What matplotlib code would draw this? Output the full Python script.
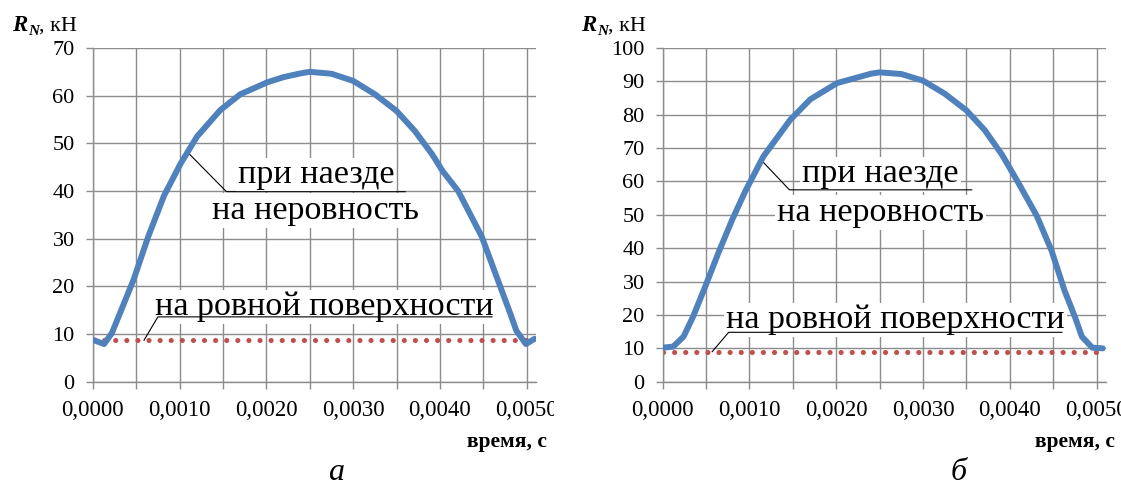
import matplotlib
matplotlib.use("Agg")
import matplotlib.pyplot as plt
from matplotlib.transforms import Bbox, TransformedBbox

# ---------------- data ----------------
time_a = [0, 0.00013, 0.00022, 0.00047, 0.00064, 0.00082, 0.00101, 0.0012, 0.00147,
          0.0017, 0.00201, 0.0022, 0.0024, 0.0025, 0.00275, 0.003, 0.00325, 0.0035,
          0.00371, 0.00391, 0.00403, 0.00421, 0.00448, 0.00481, 0.00488, 0.00499, 0.00509]
force_a = [8.8, 7.9, 10.2, 21.4, 30.5, 39.0, 45.7, 51.4, 57.0,
           60.3, 62.8, 63.9, 64.7, 65.0, 64.6, 63.1, 60.3, 56.8,
           52.6, 47.7, 44.2, 40.0, 30.5, 14.3, 10.7, 7.9, 9.0]

time_b = [0, 0.00012, 0.00024, 0.00035, 0.00049, 0.00064, 0.0008, 0.00095, 0.00116,
          0.00147, 0.0017, 0.00201, 0.0024, 0.0025, 0.00275, 0.003, 0.00325, 0.0035,
          0.00371, 0.00391, 0.0041, 0.00431, 0.00448, 0.00463, 0.00475, 0.00483,
          0.00495, 0.00507]
force_b = [10.2, 10.5, 13.5, 19.5, 28.5, 38.5, 48.5, 57.0, 67.5,
           78.5, 84.6, 89.5, 92.3, 92.7, 92.2, 90.2, 86.3, 81.3,
           75.4, 68.0, 59.5, 49.7, 39.3, 27.3, 19.4, 13.5,
           10.2, 10.0]

flat_time = [0, 0.0051]
flat_a = [8.7, 8.7]
flat_b = [8.9, 8.9]

x_ticks = [0, 0.0005, 0.001, 0.0015, 0.002, 0.0025, 0.003, 0.0035, 0.004, 0.0045, 0.005]
x_ticklabels = ["0,0000", "", "0,0010", "", "0,0020", "", "0,0030", "", "0,0040", "", "0,0050"]
y_ticks_a = [0, 10, 20, 30, 40, 50, 60, 70]
y_ticks_b = [0, 10, 20, 30, 40, 50, 60, 70, 80, 90, 100]

label_bump = "при наезде"
label_bump2 = "на неровность"
label_flat = "на ровной поверхности"
xlabel = "время, с"
captions = ["а", "б"]

# ---------------- style ----------------
SERIF = "Liberation Serif"
plt.rcParams["font.family"] = [SERIF, "DejaVu Serif"]
BLUE = "#4F81BD"
RED = "#C0504D"
GRID = "#8C8C8C"

W, H = 1121, 487
fig = plt.figure(figsize=(W / 100, H / 100), dpi=100)


def fx(px):
    return px / W


def fy(py):
    return 1 - py / H


ax_bottom_px = 381.7
ax_top_px = 48
ax_w_px = 443.5
axA = fig.add_axes([fx(92.8), fy(ax_bottom_px), ax_w_px / W, (ax_bottom_px - ax_top_px) / H])
axB = fig.add_axes([fx(662.7), fy(ax_bottom_px), ax_w_px / W, (ax_bottom_px - ax_top_px) / H])


def style_axes(ax, yticks, ymax):
    ax.set_xlim(0, 0.00511)
    ax.set_ylim(0, ymax)
    ax.set_xticks(x_ticks)
    ax.set_xticklabels(x_ticklabels)
    ax.set_yticks(yticks)
    ax.set_yticklabels([str(v) for v in yticks])
    ax.grid(True, color=GRID, linewidth=1.0)
    ax.set_axisbelow(True)
    for s in ("top", "right"):
        ax.spines[s].set_visible(False)
    for s in ("left", "bottom"):
        ax.spines[s].set_color(GRID)
        ax.spines[s].set_linewidth(1.0)
    ax.tick_params(axis="both", direction="out", length=5, width=1.0, color=GRID,
                   labelcolor="black")
    ax.tick_params(axis="x", pad=8.5, labelsize=16.5)
    ax.tick_params(axis="y", pad=8, labelsize=16)


style_axes(axA, y_ticks_a, 70)
style_axes(axB, y_ticks_b, 100)

for ax, t, f, fl in ((axA, time_a, force_a, flat_a), (axB, time_b, force_b, flat_b)):
    ax.plot(flat_time, fl, color=RED, linewidth=3.7, linestyle=(0, (0.01, 2.15)),
            dash_capstyle="round", zorder=2)
    ax.plot(t, f, color=BLUE, linewidth=4.3, solid_joinstyle="round",
            solid_capstyle="round", zorder=6)

# ---------------- annotations ----------------
TXT = 24.5
box = dict(facecolor="white", edgecolor="none", pad=1.5)


def annotate_panel(ax, bump_xy, bump_line, flat_xy, flat_line):
    x, b1, b2 = bump_xy
    ax.text(x, b1, label_bump, ha="center", va="baseline", fontsize=TXT, bbox=box, zorder=4)
    ax.text(x, b2, label_bump2, ha="center", va="baseline", fontsize=TXT, bbox=box, zorder=4)
    ax.plot(*bump_line, color="black", linewidth=0.8, zorder=5, clip_on=False)
    xf, bf = flat_xy
    ax.text(xf, bf, label_flat, ha="center", va="baseline", fontsize=TXT, bbox=box, zorder=4)
    ax.plot(*flat_line, color="black", linewidth=0.8, zorder=5, clip_on=False)


annotate_panel(axA,
               (0.00257, 41.6, 34.2),
               ([0.00111, 0.00154, 0.0036], [47.8, 39.86, 39.86]),
               (0.00267, 13.9),
               ([0.00059, 0.00075, 0.0046], [8.7, 13.6, 13.6]))
annotate_panel(axB,
               (0.00251, 59.7, 48.2),
               ([0.00115, 0.00146, 0.00356], [66.0, 57.5, 57.5]),
               (0.00268, 16.0),
               ([0.00057, 0.00076, 0.0046], [9.0, 14.8, 14.8]))

# clip last x tick label of left panel at the chart area boundary
clip = TransformedBbox(Bbox([[0, 0], [fx(554), 1]]), fig.transFigure)
for lab in axA.get_xticklabels():
    lab.set_clip_box(clip)
    lab.set_clip_on(True)

# ---------------- axis titles ----------------
for x0 in (12.5, 581.5):
    tR = fig.text(fx(x0), fy(31), "R", fontsize=16.5, fontweight="bold", fontstyle="italic",
                  ha="left", va="baseline")
    tN = fig.text(0, 0, "N", fontsize=11, fontweight="bold", fontstyle="italic",
                  ha="left", va="baseline")
    fig.canvas.draw()
    bb = tR.get_window_extent()
    tN.set_position((bb.x1 / W + 0.0005, fy(31) - 4 / H))
    fig.canvas.draw()
    bbN = tN.get_window_extent()
    fig.text(bbN.x1 / W, fy(31), ", кН", fontsize=16, ha="left", va="baseline")

for xr in (547, 1115):
    fig.text(fx(xr), fy(447), xlabel, fontsize=15.5, fontweight="bold", ha="right", va="baseline")

for xc, cap in zip((336, 959), captions):
    fig.text(fx(xc), fy(480), cap, fontsize=23, fontstyle="italic", ha="center", va="baseline")

fig.savefig("out.png", dpi=100)
